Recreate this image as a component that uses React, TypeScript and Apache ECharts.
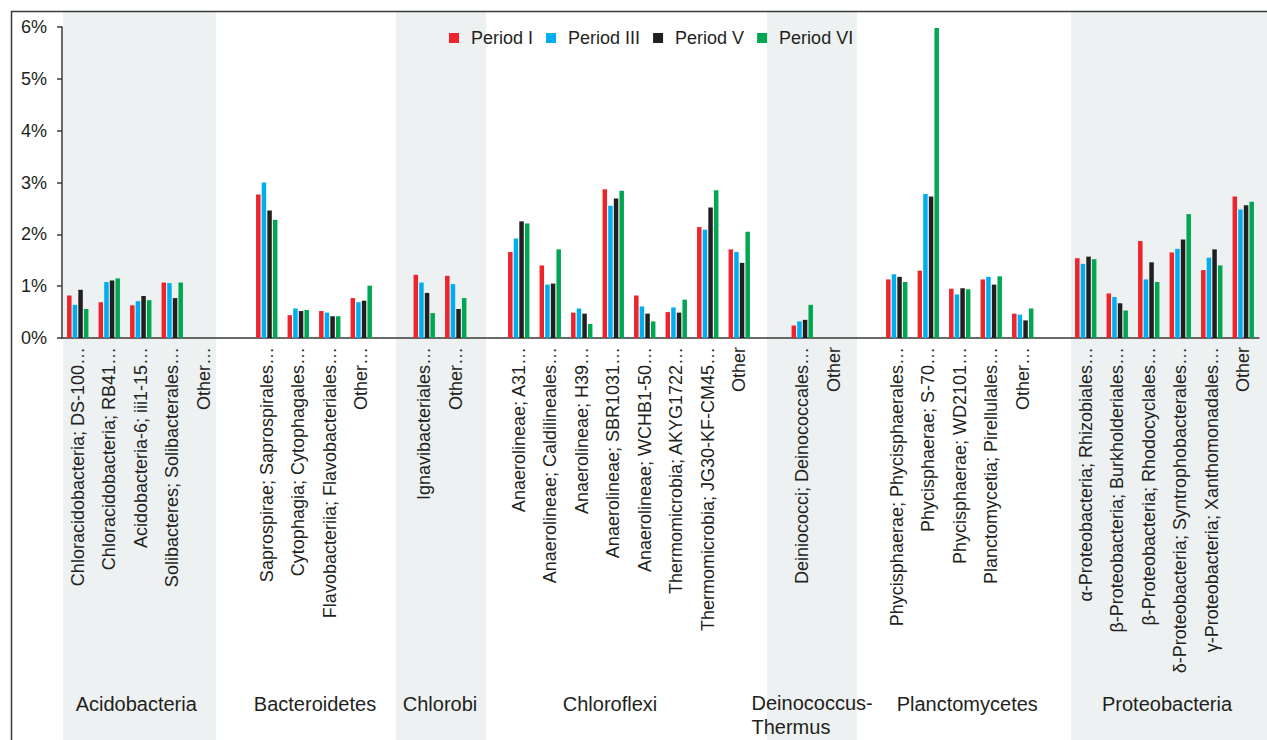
import React, { useEffect, useRef } from "react";
import * as echarts from "echarts";

// ---------- data ----------
const groupNames = [
  "Acidobacteria",
  "Bacteroidetes",
  "Chlorobi",
  "Chloroflexi",
  "Deinococcus-\nThermus",
  "Planctomycetes",
  "Proteobacteria",
];

const groupTaxa = [
  ["Chloracidobacteria; DS-100…", "Chloracidobacteria; RB41…", "Acidobacteria-6; iii1-15…", "Solibacteres; Solibacterales…", "Other…"],
  ["Saprospirae; Saprospirales…", "Cytophagia; Cytophagales…", "Flavobacteriia; Flavobacteriales…", "Other…"],
  ["Ignavibacteriales…", "Other…"],
  ["Anaerolineae; A31…", "Anaerolineae; Caldilineales…", "Anaerolineae; H39…", "Anaerolineae; SBR1031…", "Anaerolineae; WCHB1-50…", "Thermomicrobia; AKYG1722…", "Thermomicrobia; JG30-KF-CM45…", "Other"],
  ["Deiniococci; Deinococcales…", "Other"],
  ["Phycisphaerae; Phycisphaerales…", "Phycisphaerae; S-70…", "Phycisphaerae; WD2101…", "Planctomycetia; Pirellulales…", "Other…"],
  ["α-Proteobacteria; Rhizobiales…", "β-Proteobacteria; Burkholderiales…", "β-Proteobacteria; Rhodocyclales…", "δ-Proteobacteria; Syntrophobacterales…", "γ-Proteobacteria; Xanthomonadales…", "Other"],
];

const seriesNames = ["Period I", "Period III", "Period V", "Period VI"];

// values in % (one per taxon, in the order of groupTaxa)
const periodI = [0.82, 0.69, 0.63, 1.07, 0, 2.77, 0.44, 0.52, 0.77, 1.22, 1.2, 1.66, 1.4, 0.49, 2.87, 0.82, 0.5, 2.14, 1.71, 0.24, 0, 1.13, 1.3, 0.95, 1.13, 0.47, 1.54, 0.86, 1.87, 1.65, 1.31, 2.73];
const periodIII = [0.64, 1.08, 0.71, 1.06, 0, 3.0, 0.57, 0.49, 0.69, 1.07, 1.04, 1.92, 1.03, 0.57, 2.55, 0.61, 0.59, 2.09, 1.66, 0.32, 0, 1.23, 2.78, 0.84, 1.18, 0.45, 1.43, 0.79, 1.13, 1.72, 1.55, 2.48];
const periodV = [0.93, 1.11, 0.81, 0.77, 0, 2.46, 0.52, 0.42, 0.72, 0.87, 0.56, 2.25, 1.05, 0.47, 2.69, 0.47, 0.49, 2.52, 1.45, 0.35, 0, 1.18, 2.73, 0.96, 1.03, 0.34, 1.57, 0.67, 1.46, 1.9, 1.71, 2.56];
const periodVI = [0.56, 1.15, 0.73, 1.07, 0, 2.28, 0.54, 0.42, 1.01, 0.48, 0.77, 2.21, 1.71, 0.27, 2.84, 0.32, 0.74, 2.85, 2.05, 0.64, 0, 1.08, 5.98, 0.94, 1.19, 0.57, 1.52, 0.53, 1.08, 2.39, 1.4, 2.63];

const yTicks = [0, 1, 2, 3, 4, 5, 6];

// ---------- layout / style ----------
const COLORS = ["#ED242B", "#00AEEF", "#231F20", "#00A651"];
const TEXT = "#231F20";
const FONT = "'Liberation Sans', Arial, sans-serif";
const SHADE = "#edf1f2";
// shaded bands in slot units (slot edges), end null = to right edge
const shadeBands: [number, number | null][] = [
  [0.03, 4.89],
  [10.6, 13.46],
  [22.38, 25.24],
  [32.03, null],
];
const groupLabelDx = [-4.5, 1, 0, -19, 0, 7.5, 2.5];

function buildCategories() {
  const cats: string[] = [];
  const starts: number[] = [];
  groupTaxa.forEach((taxa, gi) => {
    if (gi > 0) cats.push("");
    starts.push(cats.length);
    taxa.forEach((t) => cats.push(t));
  });
  return { cats, starts };
}

function spreadValues(values: number[]) {
  const out: (number | string)[] = [];
  let k = 0;
  groupTaxa.forEach((taxa, gi) => {
    if (gi > 0) out.push("-");
    taxa.forEach(() => {
      out.push(values[k]);
      k++;
    });
  });
  return out;
}

export default function App() {
  const ref = useRef<HTMLDivElement>(null);
  useEffect(() => {
    if (!ref.current) return;
    const chart = echarts.init(ref.current, null, { renderer: "svg" });
    const { cats, starts } = buildCategories();
    const allValues = [periodI, periodIII, periodV, periodVI];

    chart.setOption({
      animation: false,
      backgroundColor: "#ffffff",
      textStyle: { fontFamily: FONT },
      legend: {
        data: seriesNames,
        left: 449,
        top: 29,
        padding: 0,
        icon: "rect",
        itemWidth: 10,
        itemHeight: 10,
        itemGap: 13,
        selectedMode: false,
        textStyle: { fontSize: 18, color: TEXT, fontFamily: FONT, padding: [0, 0, 0, 7] },
      },
      grid: { left: 62, right: 8, top: 27, bottom: 402, containLabel: false },
      xAxis: {
        type: "category",
        data: cats,
        axisLine: { show: true, lineStyle: { color: "#3a3a3a", width: 1.5 } },
        axisTick: { show: false },
        axisLabel: {
          interval: 0,
          rotate: 90,
          margin: 9,
          fontSize: 18,
          color: TEXT,
          fontFamily: FONT,
        },
      },
      yAxis: {
        type: "value",
        min: yTicks[0],
        max: yTicks[yTicks.length - 1],
        interval: 1,
        splitLine: { show: false },
        axisLine: { show: true, lineStyle: { color: "#3a3a3a", width: 1.5 } },
        axisTick: { show: true, length: 5, lineStyle: { color: "#3a3a3a", width: 1.5 } },
        axisLabel: {
          formatter: "{value}%",
          fontSize: 18,
          margin: 15,
          color: TEXT,
          fontFamily: FONT,
        },
      },
      series: seriesNames.map((name, i) => ({
        name,
        type: "bar",
        data: spreadValues(allValues[i]),
        barWidth: 4.5,
        barGap: "25%",
        itemStyle: { color: COLORS[i] },
        z: 3,
      })),
    });

    const p0 = chart.convertToPixel({ xAxisIndex: 0 }, 0) as number;
    const p1 = chart.convertToPixel({ xAxisIndex: 0 }, 1) as number;
    const step = p1 - p0;
    const edge = (s: number) => p0 + (s - 0.5) * step;

    const graphics: any[] = [];
    shadeBands.forEach(([a, b]) => {
      const x0 = edge(a);
      const x1 = b === null ? 1300 : edge(b);
      graphics.push({
        type: "rect",
        z: -10,
        silent: true,
        shape: { x: x0, y: 12, width: x1 - x0, height: 760 },
        style: { fill: SHADE },
      });
    });
    groupNames.forEach((g, gi) => {
      const first = starts[gi];
      const last = first + groupTaxa[gi].length - 1;
      const cx = (edge(first + 0.5) + edge(last + 0.5)) / 2 + groupLabelDx[gi];
      const multi = g.indexOf("\n") >= 0;
      if (multi) {
        graphics.push({
          type: "text",
          z: 5,
          silent: true,
          style: {
            text: g,
            x: edge(first) - 35,
            y: 691,
            align: "left",
            verticalAlign: "top",
            fontSize: 20,
            lineHeight: 24,
            fill: TEXT,
            fontFamily: FONT,
          },
        });
      } else {
        graphics.push({
          type: "text",
          z: 5,
          silent: true,
          style: {
            text: g,
            x: cx,
            y: 704,
            align: "center",
            verticalAlign: "middle",
            fontSize: 20,
            fill: TEXT,
            fontFamily: FONT,
          },
        });
      }
    });
    graphics.push({
      type: "rect",
      z: 10,
      silent: true,
      shape: { x: 11.5, y: 11.5, width: 1400, height: 900 },
      style: { fill: "none", stroke: "#3a3a3a", lineWidth: 1.5 },
    });
    chart.setOption({ graphic: graphics });

    return () => chart.dispose();
  }, []);

  return (
    <div
      ref={ref}
      style={{ position: "absolute", left: 0, top: 0, width: 1267, height: 740, background: "#fff" }}
    />
  );
}
